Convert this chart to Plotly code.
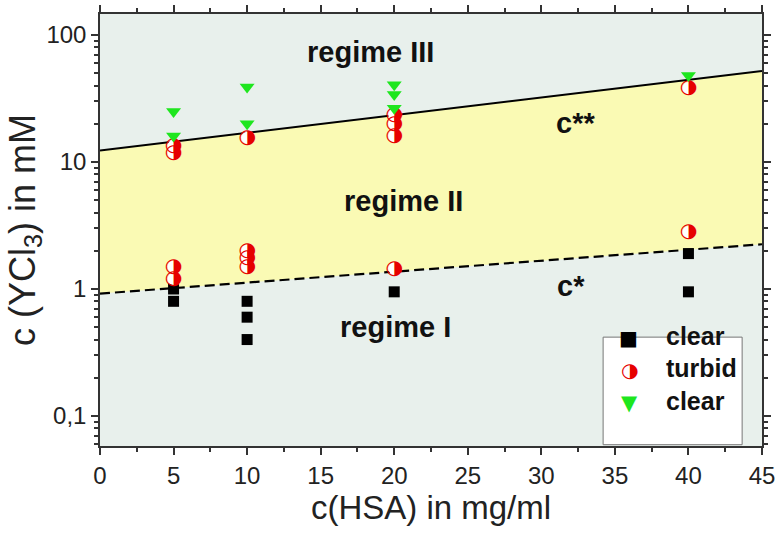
import plotly.graph_objects as go
import numpy as np

# boundary lines (x in mg/ml, y in mM)
line_x = [0, 45]
c_star = [0.92, 2.25]
c_2star = [12.3, 52.0]

# black squares: clear (regime I)
sq_x = [5, 5, 10, 10, 10, 20, 40, 40]
sq_y = [1.0, 0.8, 0.8, 0.6, 0.4, 0.95, 1.9, 0.95]

# half-filled red circles: turbid (regime II)
tu_x = [5, 5, 5, 5, 10, 10, 10, 10, 20, 20, 20, 20, 40, 40]
tu_y = [1.2, 1.5, 11.8, 13.4, 1.5, 1.75, 2.0, 15.5, 1.45, 16.0, 20.0, 23.5, 2.8, 38.0]

# green triangles: clear (regime III)
tr_x = [5, 5, 10, 10, 20, 20, 20, 40]
tr_y = [16.0, 25.0, 20.0, 39.0, 26.5, 34.0, 40.5, 48.0]

x_ticks = [0, 5, 10, 15, 20, 25, 30, 35, 40, 45]
y_tickvals = [0.1, 1, 10, 100]
y_ticktext = ["0,1", "1", "10", "100"]

RED = "#e60000"
GREEN = "#1ee61e"
BG = "#e8f0ec"
YELLOW = "#fafab4"
FONT = "Liberation Sans, Arial, sans-serif"

fig = go.Figure()

fig.add_trace(go.Scatter(x=line_x, y=c_star, mode="lines",
                         line=dict(color="black", width=2.2, dash="10px,5px"),
                         showlegend=False, hoverinfo="skip"))
fig.add_trace(go.Scatter(x=line_x, y=c_2star, mode="lines",
                         line=dict(color="black", width=2),
                         fill="tonexty", fillcolor=YELLOW,
                         showlegend=False, hoverinfo="skip"))

fig.add_trace(go.Scatter(x=sq_x, y=sq_y, mode="markers", name="clear",
                         marker=dict(symbol="square", size=11, color="black"),
                         showlegend=False))
fig.add_trace(go.Scatter(x=tu_x, y=tu_y, mode="markers", name="turbid",
                         marker=dict(symbol="circle", size=12, color="white",
                                     line=dict(width=0)),
                         showlegend=False))
fig.add_trace(go.Scatter(x=tu_x, y=tu_y, mode="text", text=["◑"] * len(tu_x),
                         textposition="middle center",
                         textfont=dict(family="DejaVu Sans", size=20, color=RED),
                         showlegend=False, hoverinfo="skip"))
fig.add_trace(go.Scatter(x=tr_x, y=tr_y, mode="markers", name="clear",
                         marker=dict(symbol="triangle-down", size=13, color=GREEN),
                         showlegend=False))

# region labels
lab_font = dict(family=FONT, size=29, color="#111111")
labels = [("regime III", 18.4, 73), ("regime II", 20.6, 4.9),
          ("regime I", 20.1, 0.5)]
for t, x, y in labels:
    fig.add_annotation(x=x, y=np.log10(y), text="<b>%s</b>" % t, showarrow=False,
                       font=lab_font)
fig.add_annotation(x=32.3, y=np.log10(20.4), text="<b>c**</b>", showarrow=False, font=lab_font)
fig.add_annotation(x=32.0, y=np.log10(1.06), text="<b>c*</b>", showarrow=False, font=lab_font)

# legend box (manual, to show half-filled symbol)
fig.add_shape(type="rect", xref="paper", yref="paper", x0=0.760, x1=0.970,
              y0=0.003, y1=0.252, line=dict(color="#777777", width=1),
              fillcolor="white", layer="above")
leg_rows = [("■", "black", 20, "clear", 0.2176),
            ("◑", RED, 20, "turbid", 0.1435),
            ("▼", GREEN, 21, "clear", 0.067)]
for g, col, gs, t, yy in leg_rows:
    fig.add_annotation(xref="paper", yref="paper", x=0.8157, y=yy, text=g,
                       showarrow=False, font=dict(family="DejaVu Sans", size=gs, color=col))
    fig.add_annotation(xref="paper", yref="paper", x=0.852, y=yy, text="<b>%s</b>" % t,
                       xanchor="left", showarrow=False,
                       font=dict(family=FONT, size=25, color="#111111"))

fig.update_layout(
    width=775, height=534,
    margin=dict(l=100, r=13, t=14, b=88),
    paper_bgcolor="white", plot_bgcolor=BG,
    font=dict(family=FONT, color="#222222"),
    showlegend=False,
)
fig.update_xaxes(range=[0, 45], tickvals=x_ticks, ticks="outside", ticklen=7,
                 tickwidth=1.5, tickcolor="#333", showline=True, linecolor="#333",
                 linewidth=1.5, mirror="ticks", showgrid=False, zeroline=False,
                 automargin=False, ticklabeloverflow="allow",
                 tickfont=dict(size=24, family=FONT),
                 minor=dict(ticks="outside", ticklen=4, tickvals=[2.5 + 5 * i for i in range(9)],
                            tickcolor="#333"),
                 title=dict(text="c(HSA) in mg/ml", font=dict(size=33, family=FONT), standoff=4))
minor_y = [m * 10 ** e for e in range(-2, 3) for m in range(2, 10)]
fig.update_yaxes(type="log", range=[-1.236, 2.165], tickvals=y_tickvals, ticktext=y_ticktext,
                 ticks="outside", ticklen=7, tickwidth=1.5, tickcolor="#333",
                 showline=True, linecolor="#333", linewidth=1.5, mirror="ticks",
                 showgrid=False, zeroline=False, automargin=False, ticklabeloverflow="allow",
                 tickfont=dict(size=24, family=FONT),
                 minor=dict(ticks="outside", ticklen=4, tickvals=minor_y, tickcolor="#333"),
                 title=dict(text="c (YCl<sub>3</sub>) in mM", font=dict(size=36, family=FONT),
                            standoff=0))

fig.write_html("out.html")
